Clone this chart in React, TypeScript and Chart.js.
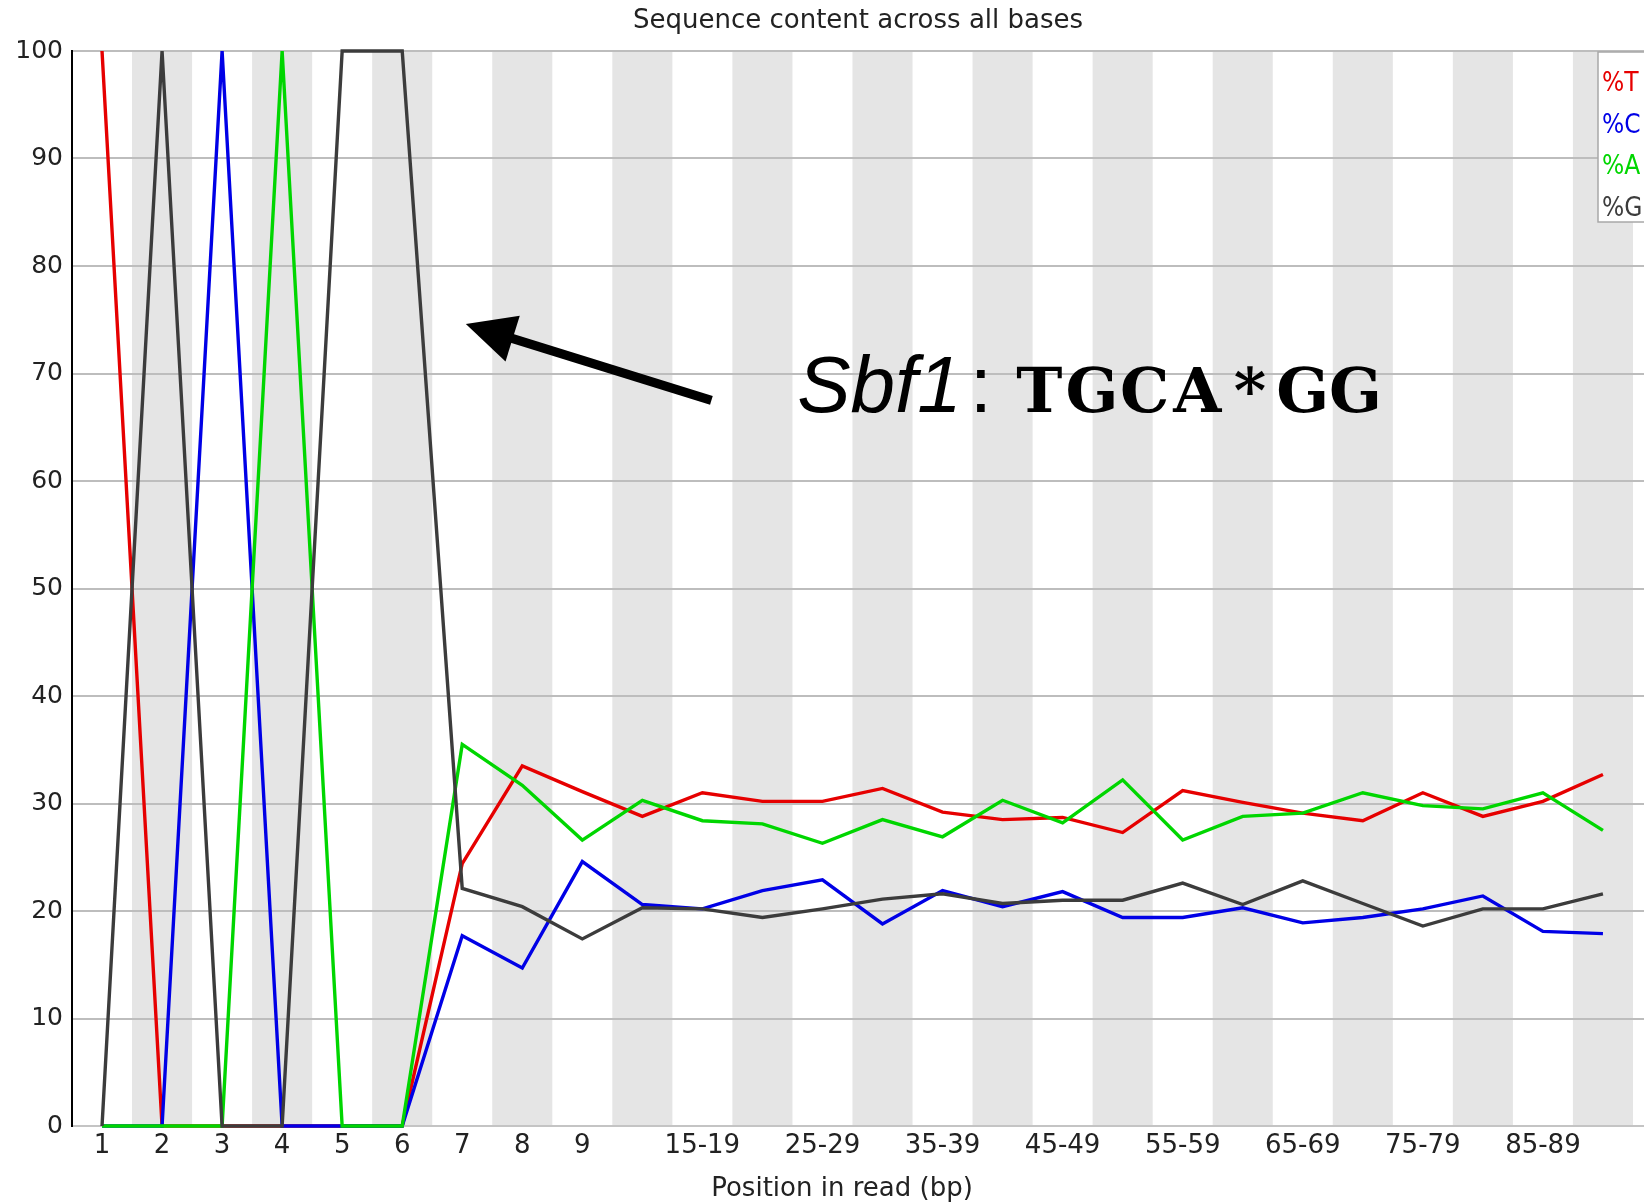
import React, { useEffect, useRef } from "react";
import { Chart, registerables } from "chart.js";

Chart.register(...registerables);

// ---------- data ----------
const categories = [
  "1", "2", "3", "4", "5", "6", "7", "8", "9",
  "10-14", "15-19", "20-24", "25-29", "30-34", "35-39", "40-44", "45-49",
  "50-54", "55-59", "60-64", "65-69", "70-74", "75-79", "80-84", "85-89", "90-94",
];
const tickLabels = [
  "1", "2", "3", "4", "5", "6", "7", "8", "9",
  "", "15-19", "", "25-29", "", "35-39", "", "45-49",
  "", "55-59", "", "65-69", "", "75-79", "", "85-89", "",
];
const seriesNames = ["%T", "%C", "%A", "%G"];
const seriesColors = ["#e60000", "#0000e6", "#00d600", "#3c3c3c"];

const pctT = [100, 0, 0, 0, 0, 0, 24.4, 33.5, 31.1, 28.8, 31.0, 30.2, 30.2, 31.4, 29.2, 28.5, 28.7, 27.3, 31.2, 30.1, 29.1, 28.4, 31.0, 28.8, 30.2, 32.7];
const pctC = [0, 0, 100, 0, 0, 0, 17.7, 14.7, 24.6, 20.6, 20.2, 21.9, 22.9, 18.8, 21.9, 20.4, 21.8, 19.4, 19.4, 20.3, 18.9, 19.4, 20.2, 21.4, 18.1, 17.9];
const pctA = [0, 0, 0, 100, 0, 0, 35.5, 31.7, 26.6, 30.3, 28.4, 28.1, 26.3, 28.5, 26.9, 30.3, 28.2, 32.2, 26.6, 28.8, 29.1, 31.0, 29.8, 29.5, 31.0, 27.5];
const pctG = [0, 100, 0, 0, 100, 100, 22.1, 20.4, 17.4, 20.3, 20.2, 19.4, 20.2, 21.1, 21.6, 20.7, 21.0, 21.0, 22.6, 20.6, 22.8, 20.7, 18.6, 20.2, 20.2, 21.6];

const chartTitle = "Sequence content across all bases";
const xAxisTitle = "Position in read (bp)";
const enzymeName = "Sbf1";
const siteText = "TGCA*GG";

// annotation anchors in data units (x: category position, y: percent)
const arrowFrom = { x: 11.15, y: 67.5 };
const arrowTo = { x: 7.06, y: 74.6 };
const labelAt = { x: 12.58, y: 66.42 };

// ---------- layout ----------
const canvasW = 1693;
const canvasH = 1202;
const plotTop = 51;
const yAxisWidth = 72;
const xAxisHeight = 76;
const FONT = '"DejaVu Sans", sans-serif';

const bandsPlugin = {
  id: "bands",
  beforeDraw(chart: any) {
    const { ctx, chartArea, scales } = chart;
    const x = scales.x;
    ctx.save();
    ctx.fillStyle = "#e5e5e5";
    categories.forEach((_, i) => {
      if ((i + 1) % 2 === 0) {
        const l = x.getPixelForValue(i + 0.5);
        const r = x.getPixelForValue(i + 1.5);
        ctx.fillRect(l, chartArea.top, r - l, chartArea.bottom - chartArea.top);
      }
    });
    ctx.restore();
  },
};

const annotationPlugin = {
  id: "sbfAnnotation",
  afterDatasetsDraw(chart: any) {
    const { ctx, scales } = chart;
    const x = scales.x, y = scales.y;
    const x1 = x.getPixelForValue(arrowFrom.x), y1 = y.getPixelForValue(arrowFrom.y);
    const x2 = x.getPixelForValue(arrowTo.x), y2 = y.getPixelForValue(arrowTo.y);
    const ang = Math.atan2(y2 - y1, x2 - x1);
    const headLen = 49, headHalf = 24;
    const bx = x2 - headLen * Math.cos(ang), by = y2 - headLen * Math.sin(ang);
    ctx.save();
    ctx.strokeStyle = "#000";
    ctx.fillStyle = "#000";
    ctx.lineWidth = 9;
    ctx.lineCap = "butt";
    ctx.beginPath();
    ctx.moveTo(x1, y1);
    ctx.lineTo(bx + 4 * Math.cos(ang), by + 4 * Math.sin(ang));
    ctx.stroke();
    ctx.beginPath();
    ctx.moveTo(x2, y2);
    ctx.lineTo(bx - headHalf * Math.sin(ang), by + headHalf * Math.cos(ang));
    ctx.lineTo(bx + headHalf * Math.sin(ang), by - headHalf * Math.cos(ang));
    ctx.closePath();
    ctx.fill();

    const tx = x.getPixelForValue(labelAt.x), ty = y.getPixelForValue(labelAt.y);
    ctx.textBaseline = "alphabetic";
    ctx.textAlign = "left";
    ctx.font = 'italic 80px "Liberation Sans", Arimo, sans-serif';
    ctx.fillText(enzymeName, tx, ty);
    const w = ctx.measureText(enzymeName).width;
    ctx.font = '80px "Liberation Sans", Arimo, sans-serif';
    ctx.fillText(":", tx + w + 8, ty);
    // monospaced serif lettering, one glyph per fixed-width cell
    ctx.font = 'bold 62px "DejaVu Serif", serif';
    ctx.textAlign = "center";
    const pitch = 52.7;
    siteText.split("").forEach((ch, i) => {
      ctx.fillText(ch, tx + 242 + i * pitch, ty);
    });
    ctx.restore();
  },
};

const textsPlugin = {
  id: "texts",
  afterDraw(chart: any) {
    const { ctx, chartArea } = chart;
    ctx.save();
    ctx.fillStyle = "#222";
    ctx.font = `26px ${FONT}`;
    ctx.textAlign = "center";
    ctx.textBaseline = "alphabetic";
    ctx.fillText(chartTitle, 858, 28);
    ctx.fillText(xAxisTitle, 842, 1196);

    // legend box
    const lx = 1598, ly = chartArea.top + 1;
    ctx.fillStyle = "#fff";
    ctx.fillRect(lx, ly, 200, 170);
    ctx.strokeStyle = "#a8a8a8";
    ctx.lineWidth = 1.5;
    ctx.strokeRect(lx, ly, 200, 170);
    ctx.textAlign = "left";
    ctx.font = `26px "DejaVu Sans Condensed", ${FONT}`;
    chart.data.datasets.forEach((ds: any, i: number) => {
      ctx.fillStyle = ds.borderColor;
      ctx.fillText(ds.label, lx + 4, ly + 39 + i * 41.7);
    });
    ctx.restore();
  },
};

export default function App() {
  const ref = useRef<HTMLCanvasElement | null>(null);

  useEffect(() => {
    if (!ref.current) return;
    const series = [pctT, pctC, pctA, pctG];
    const chart = new Chart(ref.current, {
      type: "line",
      data: {
        datasets: series.map((vals, s) => ({
          label: seriesNames[s],
          data: vals.map((v, i) => ({ x: i + 1, y: v })),
          borderColor: seriesColors[s],
          backgroundColor: seriesColors[s],
          borderWidth: 3.4,
          pointRadius: 0,
          tension: 0,
          fill: false,
          clip: false as any,
          order: 4 - s,
        })),
      },
      options: {
        responsive: false,
        animation: false,
        devicePixelRatio: 1,
        layout: { padding: { top: plotTop, left: 0, right: 0, bottom: 0 } },
        plugins: {
          legend: { display: false },
          title: { display: false },
          tooltip: { enabled: false },
        },
        scales: {
          x: {
            type: "linear",
            min: 0.5,
            max: 27.5,
            afterBuildTicks: (scale: any) => {
              scale.ticks = categories.map((_, i) => ({ value: i + 1 }));
            },
            afterFit: (scale: any) => {
              scale.height = xAxisHeight;
            },
            grid: { display: true, color: "rgba(0,0,0,0)", drawTicks: false },
            border: { display: true, color: "#c4c4c4", width: 2 },
            ticks: {
              autoSkip: false,
              maxRotation: 0,
              minRotation: 0,
              padding: 5,
              color: "#222",
              font: { family: FONT, size: 26 },
              callback: (value: any) => tickLabels[Math.round(Number(value)) - 1] ?? "",
            },
          },
          y: {
            min: 0,
            max: 100,
            afterFit: (scale: any) => {
              scale.width = yAxisWidth;
            },
            grid: { color: "#bdbdbd", lineWidth: 2, drawTicks: false },
            border: { display: true, color: "#000", width: 2 },
            ticks: {
              stepSize: 10,
              padding: 9,
              color: "#222",
              font: { family: FONT, size: 25 },
            },
          },
        },
      },
      plugins: [bandsPlugin, annotationPlugin, textsPlugin],
    } as any);
    return () => chart.destroy();
  }, []);

  return (
    <div
      style={{
        position: "absolute",
        left: 0,
        top: 0,
        width: 1644,
        height: 1202,
        overflow: "hidden",
        background: "#fff",
      }}
    >
      <canvas ref={ref} width={canvasW} height={canvasH} style={{ display: "block" }} />
    </div>
  );
}
